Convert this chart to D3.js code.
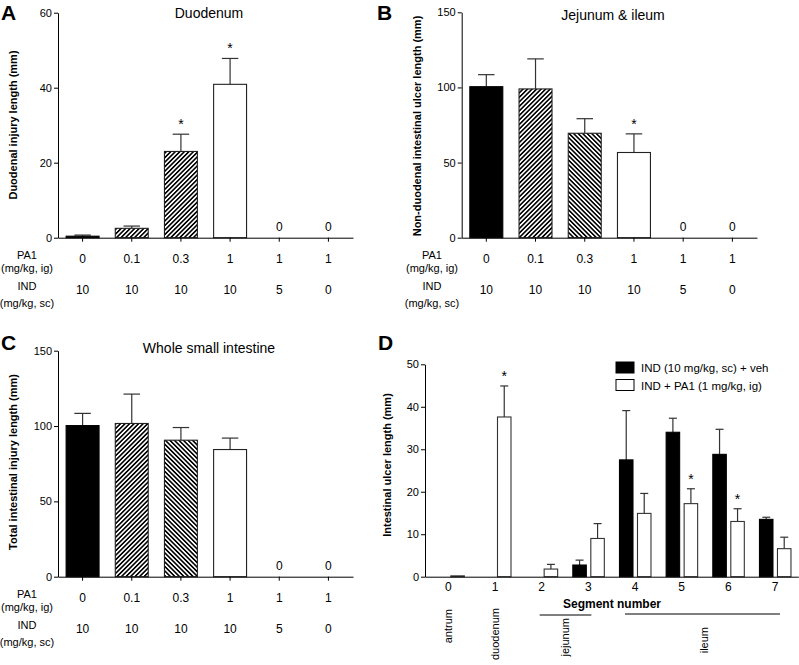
<!DOCTYPE html>
<html><head><meta charset="utf-8">
<script src="https://cdn.jsdelivr.net/npm/d3@7"></script>
<style>
html,body{margin:0;padding:0;background:#fff;}
svg{display:block;font-family:"Liberation Sans",Arial,Helvetica,sans-serif;}
</style></head>
<body>
<script>
// ---------- DATA ----------
const pa1Doses = ['0', '0.1', '0.3', '1', '1', '1'];
const indDoses = ['10', '10', '10', '10', '5', '0'];

const duodMean = [0.4, 2.5, 23.0, 40.9, 0, 0];
const duodSEM  = [0.3, 0.6, 4.6, 6.9, 0, 0];
const duodSig  = [false, false, true, true, false, false];

const jiMean = [100.5, 99.0, 69.5, 56.7, 0, 0];
const jiSEM  = [8.0, 20.0, 9.7, 12.4, 0, 0];
const jiSig  = [false, false, false, true, false, false];

const totMean = [100.3, 101.7, 90.6, 84.4, 0, 0];
const totSEM  = [8.1, 19.5, 8.4, 7.6, 0, 0];
const totSig  = [false, false, false, false, false, false];

const segments = ['0', '1', '2', '3', '4', '5', '6', '7'];
const seriesNames = ['IND (10 mg/kg, sc) + veh', 'IND + PA1 (1 mg/kg, ig)'];
const vehMean = [0, 0, 0, 2.75, 27.5, 34.0, 28.8, 13.5];
const vehSEM  = [0, 0, 0, 1.15, 11.6, 3.3, 5.9, 0.5];
const vehSig  = [false, false, false, false, false, false, false, false];
const pa1Mean = [0.2, 37.6, 1.8, 9.0, 14.9, 17.2, 13.0, 6.6];
const pa1SEM  = [0, 7.3, 1.1, 3.5, 4.7, 3.5, 3.0, 2.7];
const pa1Sig  = [false, true, false, false, false, true, true, false];

const regionNames = ['antrum', 'duodenum', 'jejunum', 'ileum'];
const regionSegs  = [[0, 0], [1, 1], [2, 3], [4, 7]];

// ---------- SETUP ----------
const svg = d3.select('body').append('svg').attr('width', 799).attr('height', 665);
const defs = svg.append('defs');
function hatch(id, angle) {
  const p = defs.append('pattern').attr('id', id).attr('patternUnits', 'userSpaceOnUse')
    .attr('width', 3.2).attr('height', 3.2).attr('patternTransform', `rotate(${angle})`);
  p.append('rect').attr('width', 3.2).attr('height', 3.2).attr('fill', '#fff');
  p.append('line').attr('x1', 0.8).attr('y1', 0).attr('x2', 0.8).attr('y2', 3.2)
    .attr('stroke', '#000').attr('stroke-width', 1.6);
}
hatch('fwd', 45);
hatch('bwd', -45);

function styleAxis(g) {
  g.selectAll('path,line').attr('stroke', '#000').attr('stroke-width', 1);
  g.selectAll('text').attr('fill', '#000').style('font-size', '11px');
}

function dosePanel(cfg) {
  const g = svg.append('g');
  const x = d3.scaleBand().domain(d3.range(pa1Doses.length)).range([cfg.left, cfg.right])
    .paddingInner(0.33).paddingOuter(0.165);
  const y = d3.scaleLinear().domain([0, cfg.yMax]).range([cfg.bottom, cfg.top]);

  const fills = ['#000', 'url(#fwd)', cfg.third, '#fff', '#fff', '#fff'];
  const data = cfg.means.map((m, i) => ({i, m, s: cfg.sems[i], sig: cfg.sig[i]}));

  // error bars
  const eb = g.append('g');
  data.filter(d => d.m > 0).forEach(d => {
    const cx = x(d.i) + x.bandwidth() / 2;
    const cw = x.bandwidth() * 0.25;
    eb.append('line').attr('x1', cx).attr('x2', cx).attr('y1', y(d.m)).attr('y2', y(d.m + d.s))
      .attr('stroke', '#333').attr('stroke-width', 1.2);
    eb.append('line').attr('x1', cx - cw).attr('x2', cx + cw).attr('y1', y(d.m + d.s)).attr('y2', y(d.m + d.s))
      .attr('stroke', '#333').attr('stroke-width', 1.2);
  });
  // bars
  g.append('g').selectAll('rect').data(data.filter(d => d.m > 0)).join('rect')
    .attr('x', d => x(d.i)).attr('width', x.bandwidth())
    .attr('y', d => y(d.m)).attr('height', d => y(0) - y(d.m))
    .attr('fill', d => fills[d.i]).attr('stroke', d => d.i === 0 ? '#000' : '#222').attr('stroke-width', 1.1);
  // stars
  g.append('g').selectAll('text').data(data.filter(d => d.sig)).join('text')
    .attr('x', d => x(d.i) + x.bandwidth() / 2).attr('y', d => y(d.m + d.s) - 5)
    .attr('text-anchor', 'middle').style('font-size', '14px').text('*');
  // zero labels
  g.append('g').selectAll('text').data(data.filter(d => d.m === 0)).join('text')
    .attr('x', d => x(d.i) + x.bandwidth() / 2).attr('y', cfg.bottom - 7)
    .attr('text-anchor', 'middle').style('font-size', '12px').text('0');

  // axes
  const ya = g.append('g').attr('transform', `translate(${cfg.left},0)`)
    .call(d3.axisLeft(y).tickValues(cfg.yTicks).tickSize(4).tickSizeOuter(0).tickPadding(2));
  styleAxis(ya);
  const xa = g.append('g').attr('transform', `translate(0,${cfg.bottom})`)
    .call(d3.axisBottom(x).tickSize(4).tickSizeOuter(0).tickFormat(''));
  styleAxis(xa);

  // dose rows
  const rows = g.append('g').style('font-size', '12px').attr('text-anchor', 'middle');
  rows.selectAll('.pa').data(pa1Doses).join('text').attr('class', 'pa')
    .attr('x', (d, i) => x(i) + x.bandwidth() / 2).attr('y', cfg.bottom + 25.6).text(d => d);
  rows.selectAll('.ind').data(indDoses).join('text').attr('class', 'ind')
    .attr('x', (d, i) => x(i) + x.bandwidth() / 2).attr('y', cfg.bottom + 56.6).text(d => d);
  const lab = g.append('g').style('font-size', '11px').attr('text-anchor', 'middle');
  lab.append('text').attr('x', cfg.rowX).attr('y', cfg.bottom + 21.3).text('PA1');
  lab.append('text').attr('x', cfg.rowX).attr('y', cfg.bottom + 34).text('(mg/kg, ig)');
  lab.append('text').attr('x', cfg.rowX).attr('y', cfg.bottom + 52.3).text('IND');
  lab.append('text').attr('x', cfg.rowX).attr('y', cfg.bottom + 69).text('(mg/kg, sc)');

  // title, letter, y label
  g.append('text').attr('x', cfg.titleX).attr('y', cfg.titleY).attr('text-anchor', 'middle')
    .style('font-size', '14px').text(cfg.title);
  g.append('text').attr('x', cfg.letterX).attr('y', cfg.letterY)
    .style('font-size', '21px').style('font-weight', 'bold').text(cfg.letter);
  g.append('text').attr('transform', `translate(${cfg.ylabX},${cfg.ylabY}) rotate(-90)`)
    .attr('text-anchor', 'middle').attr('dy', '0.35em')
    .style('font-size', '11px').style('font-weight', 'bold').text(cfg.ylabel);
}

dosePanel({left: 58, right: 353, top: 12.7, bottom: 237.7, yMax: 60, yTicks: [0, 20, 40, 60],
  means: duodMean, sems: duodSEM, sig: duodSig, third: 'url(#fwd)',
  title: 'Duodenum', titleX: 209, titleY: 18, letter: 'A', letterX: 1, letterY: 20,
  ylabel: 'Duodenal injury length (mm)', ylabX: 13, ylabY: 125, rowX: 27});

dosePanel({left: 461.7, right: 757, top: 12.3, bottom: 237.7, yMax: 150, yTicks: [0, 50, 100, 150],
  means: jiMean, sems: jiSEM, sig: jiSig, third: 'url(#bwd)',
  title: 'Jejunum & ileum', titleX: 613, titleY: 20, letter: 'B', letterX: 377, letterY: 20,
  ylabel: 'Non-duodenal intestinal ulcer length (mm)', ylabX: 417, ylabY: 126, rowX: 432});

dosePanel({left: 58, right: 353, top: 350.7, bottom: 576.7, yMax: 150, yTicks: [0, 50, 100, 150],
  means: totMean, sems: totSEM, sig: totSig, third: 'url(#bwd)',
  title: 'Whole small intestine', titleX: 209, titleY: 353, letter: 'C', letterX: 1, letterY: 350,
  ylabel: 'Total intestinal injury length (mm)', ylabX: 13, ylabY: 462, rowX: 27});

// ---------- PANEL D ----------
(function () {
  const g = svg.append('g');
  const left = 425, right = 798.3, top = 364.3, bottom = 576.7;
  const x = d3.scaleBand().domain(segments).range([left, right]);
  const xs = d3.scaleBand().domain([0, 1]).range([-15.5, 16]).paddingInner(0.25);
  const y = d3.scaleLinear().domain([0, 50]).range([bottom, top]);
  const cx = s => x(s) + x.bandwidth() / 2;

  const series = [
    {k: 0, mean: vehMean, sem: vehSEM, sig: vehSig, fill: '#000'},
    {k: 1, mean: pa1Mean, sem: pa1SEM, sig: pa1Sig, fill: '#fff'}
  ];
  const data = [];
  series.forEach(s => segments.forEach((seg, i) => data.push({seg, k: s.k, m: s.mean[i], e: s.sem[i], sig: s.sig[i], fill: s.fill})));
  const bx = d => cx(d.seg) + xs(d.k);
  const bw = xs.bandwidth();

  const eb = g.append('g');
  data.filter(d => d.m > 0 && d.e > 0).forEach(d => {
    const c = bx(d) + bw / 2;
    eb.append('line').attr('x1', c).attr('x2', c).attr('y1', y(d.m)).attr('y2', y(d.m + d.e))
      .attr('stroke', '#333').attr('stroke-width', 1.2);
    eb.append('line').attr('x1', c - 4).attr('x2', c + 4).attr('y1', y(d.m + d.e)).attr('y2', y(d.m + d.e))
      .attr('stroke', '#333').attr('stroke-width', 1.2);
  });
  g.append('g').selectAll('rect').data(data.filter(d => d.m > 0)).join('rect')
    .attr('x', bx).attr('width', bw).attr('y', d => y(d.m)).attr('height', d => y(0) - y(d.m))
    .attr('fill', d => d.fill).attr('stroke', d => d.k === 0 ? '#000' : '#333').attr('stroke-width', 1.1);
  g.append('g').selectAll('text').data(data.filter(d => d.sig)).join('text')
    .attr('x', d => bx(d) + bw / 2).attr('y', d => y(d.m + d.e) - 5)
    .attr('text-anchor', 'middle').style('font-size', '14px').text('*');

  const ya = g.append('g').attr('transform', `translate(${left},0)`)
    .call(d3.axisLeft(y).tickValues([0, 10, 20, 30, 40, 50]).tickSize(4).tickSizeOuter(0).tickPadding(2));
  styleAxis(ya);
  const xa = g.append('g').attr('transform', `translate(0,${bottom})`)
    .call(d3.axisBottom(x).tickSize(0).tickSizeOuter(0).tickPadding(6));
  styleAxis(xa);
  xa.selectAll('text').style('font-size', '12px');

  g.append('text').attr('x', 612).attr('y', 608).attr('text-anchor', 'middle')
    .style('font-size', '12px').style('font-weight', 'bold').text('Segment number');

  // region lines & labels
  const lineY = [null, null, 615, 614];
  const topY = [609, 608, 618, 627];
  const ext = [[0, 0], [0, 0], [-2, 3], [-10, 5]];
  regionNames.forEach((name, i) => {
    const [a, b] = regionSegs[i];
    const x1 = cx(segments[a]) + ext[i][0], x2 = cx(segments[b]) + ext[i][1];
    if (lineY[i] !== null) {
      g.append('line').attr('x1', x1).attr('x2', x2).attr('y1', lineY[i]).attr('y2', lineY[i])
        .attr('stroke', '#000').attr('stroke-width', 1);
    }
    const mx = (x1 + x2) / 2 + (i === 3 ? 2 : 0);
    g.append('text').attr('transform', `translate(${mx},${topY[i]}) rotate(-90)`)
      .attr('text-anchor', 'end').attr('dy', '0.35em').style('font-size', '11px').text(name);
  });

  // legend
  const lg = g.append('g');
  seriesNames.forEach((n, i) => {
    lg.append('rect').attr('x', 616).attr('y', 362 + i * 17.5).attr('width', 18).attr('height', 11)
      .attr('fill', series[i].fill).attr('stroke', '#000').attr('stroke-width', 1);
    lg.append('text').attr('x', 641).attr('y', 372 + i * 17.5).style('font-size', '11.5px').text(n);
  });

  g.append('text').attr('x', 378).attr('y', 350).style('font-size', '21px').style('font-weight', 'bold').text('D');
  g.append('text').attr('transform', `translate(387,465) rotate(-90)`).attr('text-anchor', 'middle')
    .attr('dy', '0.35em').style('font-size', '11px').style('font-weight', 'bold').text('Intestinal ulcer length (mm)');
})();
</script>
</body></html>
